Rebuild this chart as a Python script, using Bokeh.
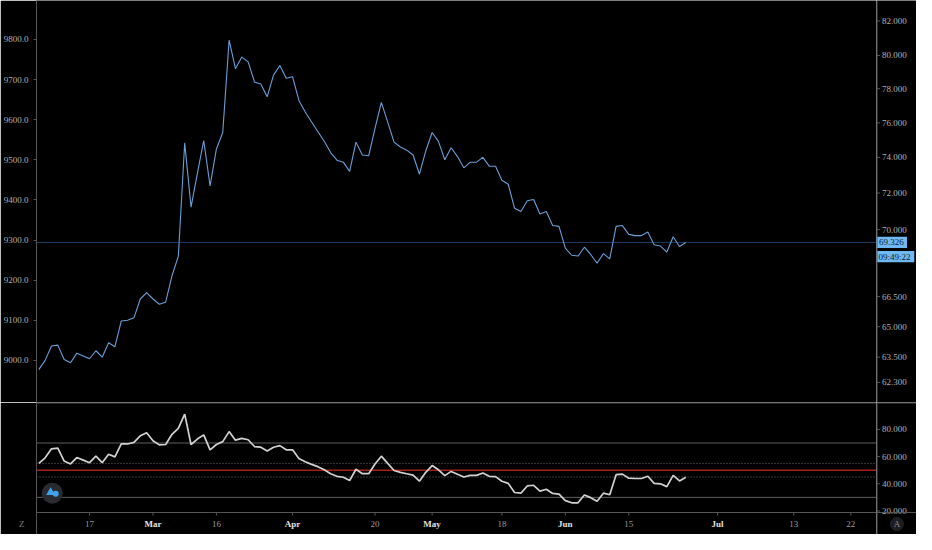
from bokeh.plotting import figure
from bokeh.models import (Range1d, LinearAxis, FixedTicker, PrintfTickFormatter, Span,
                          ColumnDataSource)
from bokeh.layouts import column, row
from bokeh.embed import file_html
from bokeh.resources import INLINE
from bokeh.core.properties import value

# ---------------- data ----------------
price = [8977, 9000, 9036, 9038, 9002, 8994, 9018, 9011, 9004, 9024,
         9008, 9044, 9034, 9098, 9100, 9106, 9153, 9169, 9153, 9140,
         9145, 9211, 9260, 9542, 9382, 9466, 9548, 9435, 9527, 9568,
         9798, 9727, 9756, 9744, 9694, 9689, 9657, 9711, 9735, 9703,
         9707, 9648, 9619, 9594, 9570, 9546, 9518, 9499, 9494, 9471,
         9544, 9512, 9510, 9578, 9643, 9594, 9544, 9532, 9524, 9512,
         9464, 9522, 9568, 9546, 9500, 9530, 9508, 9480, 9494, 9494,
         9506, 9484, 9484, 9449, 9439, 9379, 9371, 9398, 9401, 9365,
         9371, 9336, 9334, 9280, 9262, 9260, 9282, 9264, 9242, 9266,
         9253, 9334, 9336, 9314, 9311, 9311, 9320, 9288, 9285, 9270,
         9308, 9284, 9294]

rsi = [55.0, 59.1, 65.7, 66.2, 56.7, 54.6, 59.3, 57.4, 55.5, 60.3,
       55.5, 61.7, 59.8, 69.3, 69.3, 70.5, 75.3, 77.6, 71.7, 68.6,
       68.9, 76.4, 80.7, 91.2, 68.9, 72.9, 76.0, 65.0, 68.9, 71.0,
       78.4, 72.1, 73.4, 72.4, 67.4, 66.9, 64.1, 66.9, 68.1, 65.0,
       65.0, 58.6, 56.2, 54.3, 52.6, 50.3, 47.4, 45.5, 44.8, 42.4,
       50.7, 47.4, 47.4, 54.6, 60.3, 55.0, 49.8, 48.4, 47.4, 46.4,
       41.9, 48.4, 53.4, 50.3, 46.0, 49.1, 47.0, 45.0, 46.2, 46.2,
       47.9, 45.5, 45.3, 41.9, 40.3, 33.6, 33.1, 38.4, 38.9, 34.6,
       36.0, 32.9, 32.4, 27.6, 26.0, 26.0, 31.7, 29.8, 27.1, 33.1,
       31.9, 46.7, 47.1, 44.1, 43.9, 43.9, 45.5, 40.3, 40.0, 37.9,
       46.2, 42.1, 44.8]

bars = list(range(len(price)))

left_ticks = [9000, 9100, 9200, 9300, 9400, 9500, 9600, 9700, 9800]
right_tick_at = [9846, 9760, 9677, 9592, 9506, 9417, 9326, 9253, 9159, 9084, 9008, 8945]
right_tick_labels = ["82.000", "80.000", "78.000", "76.000", "74.000", "72.000",
                     "70.000", "68.000", "66.500", "65.000", "63.500", "62.300"]
rsi_ticks = [20, 40, 60, 80]
rsi_tick_labels = ["20.000", "40.000", "60.000", "80.000"]
rsi_solid_levels = [70, 30]
rsi_dotted_levels = [55, 45]
rsi_mid_level = 50

date_tick_at = [8, 18, 28, 40, 53, 62, 73, 83, 93, 107, 119, 128]
date_tick_labels = ["17", "Mar", "16", "Apr", "20", "May", "18", "Jun", "15", "Jul", "13", "22"]
month_names = {"Mar", "Apr", "May", "Jun", "Jul"}

last_price_label = "69.326"
timer_label = "09:49:22"

# ---------------- layout / style ----------------
W_MAIN, W_SCALE = 876, 40
H_TOP, H_BOT = 402, 132
FRAME_L = 34
X_START, X_END = -0.36, 132.05
P_LOW, P_HIGH = 8895, 9897
R_LOW, R_HIGH = 2.68, 99.8
P_PER_PX = (P_HIGH - P_LOW) / H_TOP
R_PER_PX = (R_HIGH - R_LOW) / H_BOT
AXIS_Y = 18.86          # RSI value at the time-axis base line
TIME_Y = 10.33          # RSI value at the time labels' middle
LOGO_X, LOGO_Y = 2.12, 33.1
A_X = 20.4

FONT = "Liberation Sans Narrow"
BG = "#000000"
AX = "#555555"
LBL = "#b0b0b0"
BOX = "#6fb9f2"
BOX_TXT = "#0c1e33"

base = dict(output_backend="svg", toolbar_location=None,
            x_axis_location=None, y_axis_location=None,
            min_border_left=0, min_border_right=0, min_border_top=0, min_border_bottom=0,
            background_fill_color=BG, border_fill_color=BG, outline_line_color=None)


def clean(f):
    f.grid.visible = False
    return f


def text_props(size="9px", color=LBL):
    return dict(text_font=value(FONT), text_font_size=size, text_color=color)


def style_axis(a, standoff):
    a.axis_line_color = AX
    a.major_tick_line_color = AX
    a.minor_tick_line_color = None
    a.major_tick_in = 0
    a.major_tick_out = 3
    a.major_label_text_color = LBL
    a.major_label_text_font = FONT
    a.major_label_text_font_size = "9px"
    a.major_label_standoff = standoff


# ---- main price panel ----
p = clean(figure(width=W_MAIN, height=H_TOP, x_range=Range1d(X_START, X_END),
                 y_range=Range1d(P_LOW, P_HIGH), **{**base, "min_border_left": FRAME_L}))

ax_l = LinearAxis(ticker=FixedTicker(ticks=left_ticks), formatter=PrintfTickFormatter(format="%.1f"))
style_axis(ax_l, 5)
p.add_layout(ax_l, "left")

p.add_layout(Span(location=price[-1], dimension="width", line_color="#3c7dc0",
                  line_dash="1 1", line_width=1))
p.line(bars, price, line_color="#6a9fd8", line_width=1.1)

# ---- price scale strip (right) ----
pr = clean(figure(width=W_SCALE, height=H_TOP, x_range=Range1d(0, W_SCALE),
                  y_range=p.y_range, **base))
pr.add_layout(Span(location=0.5, dimension="height", line_color=AX, line_width=1))
pr.segment(x0=0.5, x1=3.5, y0=right_tick_at, y1=right_tick_at, line_color=AX, line_width=1)
pr.text(x=5.5, y=right_tick_at, text=right_tick_labels, text_align="left",
        text_baseline="middle", **text_props())
timer_y = price[-1] - 14.2 * P_PER_PX
pr.rect(x=15.0, y=price[-1], width=31.0, height=11.4, height_units="screen",
        fill_color=BOX, line_color=None)
pr.rect(x=19.0, y=timer_y, width=37.6, height=11.4, height_units="screen",
        fill_color=BOX, line_color=None)
pr.text(x=[2.6, 2.0], y=[price[-1], timer_y], text=[last_price_label, timer_label],
        text_align="left", text_baseline="middle", **text_props(color=BOX_TXT))

# ---- RSI panel ----
q = clean(figure(width=W_MAIN, height=H_BOT, x_range=Range1d(X_START, X_END),
                 y_range=Range1d(R_LOW, R_HIGH), **{**base, "min_border_left": FRAME_L}))

# left scale line, carrying the small "Z" badge letter of the time scale
ax_ql = LinearAxis(ticker=FixedTicker(ticks=[TIME_Y]), major_label_overrides={TIME_Y: "Z"})
style_axis(ax_ql, 12)
ax_ql.major_tick_out = 0
ax_ql.major_tick_line_color = None
ax_ql.major_label_text_color = "#7e7e7e"
q.add_layout(ax_ql, "left")

q.add_layout(Span(location=R_HIGH - 0.5 * R_PER_PX, dimension="width", line_color="#4f4f4f",
                  line_width=1))
q.add_layout(Span(location=AXIS_Y, dimension="width", line_color=AX, line_width=1))

q.segment(x0=X_START, x1=X_END, y0=rsi_solid_levels, y1=rsi_solid_levels,
          line_color="#5e5e5e", line_width=1)
q.segment(x0=X_START, x1=X_END, y0=rsi_dotted_levels, y1=rsi_dotted_levels,
          line_color="#707070", line_dash="1 2", line_width=1)
q.segment(x0=X_START, x1=X_END, y0=rsi_mid_level, y1=rsi_mid_level,
          line_color="#a81e1e", line_width=1.5)

q.line(bars, rsi, line_color="#d2d2d2", line_width=1.7)

# time axis ticks and labels
q.segment(x0=date_tick_at, x1=date_tick_at, y0=AXIS_Y, y1=AXIS_Y - 3 * R_PER_PX,
          line_color=AX, line_width=1)
tsrc = ColumnDataSource(dict(
    x=date_tick_at, text=date_tick_labels,
    weight=["bold" if s in month_names else "normal" for s in date_tick_labels],
    tcolor=["#e4e4e4" if s in month_names else "#9a9a9a" for s in date_tick_labels]))
q.text(x="x", y=TIME_Y, text="text", source=tsrc, text_align="center",
       text_baseline="middle", text_font=value(FONT), text_font_size="9px",
       text_font_style="weight", text_color="tcolor")

# logo badge
q.scatter([LOGO_X], [LOGO_Y], size=21, fill_color="#2a2b30", line_color=None)
q.scatter([LOGO_X - 0.25], [LOGO_Y + 0.6], marker="triangle", size=9,
          fill_color="#3ea3ec", line_color=None)
q.scatter([LOGO_X + 0.55], [LOGO_Y - 0.4], size=6, fill_color="#3ea3ec", line_color=None)

# ---- RSI scale strip (right) ----
qr = clean(figure(width=W_SCALE, height=H_BOT, x_range=Range1d(0, W_SCALE),
                  y_range=q.y_range, **base))
qr.add_layout(Span(location=0.5, dimension="height", line_color=AX, line_width=1))
qr.add_layout(Span(location=R_HIGH - 0.5 * R_PER_PX, dimension="width", line_color="#4f4f4f",
                   line_width=1))
qr.add_layout(Span(location=AXIS_Y, dimension="width", line_color=AX, line_width=1))
qr.segment(x0=0.5, x1=3.5, y0=rsi_ticks, y1=rsi_ticks, line_color=AX, line_width=1)
qr.text(x=5.5, y=rsi_ticks, text=rsi_tick_labels, text_align="left",
        text_baseline="middle", **text_props())
qr.scatter([A_X], [TIME_Y], size=14, fill_color="#1d1e23", line_color=None)
qr.text(x=[A_X], y=[TIME_Y], text=["A"], text_align="center", text_baseline="middle",
        **text_props(color="#8a8a8a"))

layout = row(column(p, q, spacing=0), column(pr, qr, spacing=0), spacing=0)
open("out.html", "w").write(file_html(layout, INLINE))
